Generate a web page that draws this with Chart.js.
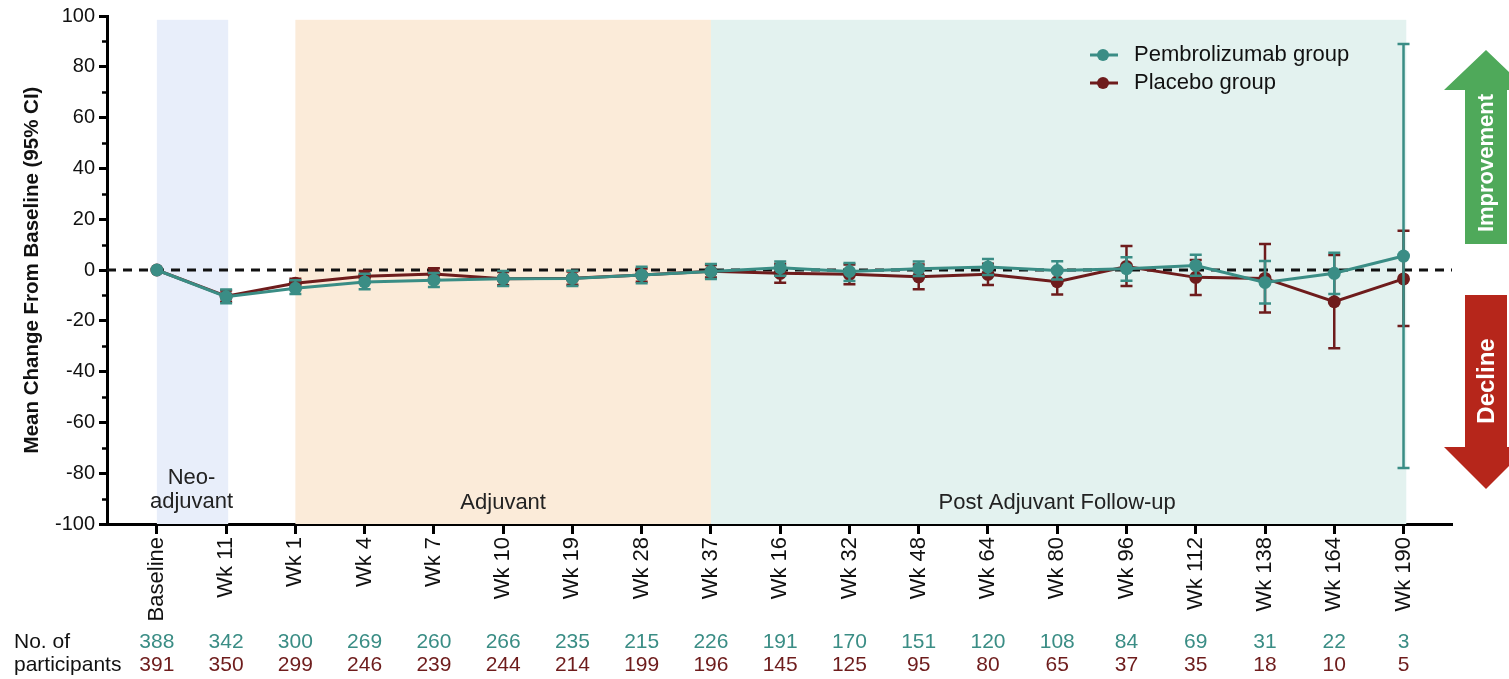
<!DOCTYPE html>
<html>
<head>
<meta charset="utf-8">
<script src="https://cdn.jsdelivr.net/npm/chart.js@4/dist/chart.umd.min.js"></script>
<style>
  html, body { margin: 0; padding: 0; background: #fff; }
  #wrap { position: relative; width: 1509px; height: 679px; }
</style>
</head>
<body>
<div id="wrap"><canvas id="qolChart"></canvas></div>
<script>
// ── Data ──────────────────────────────────────────────────
const visitLabels = ['Baseline', 'Wk 11', 'Wk 1', 'Wk 4', 'Wk 7', 'Wk 10', 'Wk 19', 'Wk 28', 'Wk 37',
    'Wk 16', 'Wk 32', 'Wk 48', 'Wk 64', 'Wk 80', 'Wk 96', 'Wk 112', 'Wk 138', 'Wk 164', 'Wk 190'];

const pembroMean = [0, -10.5, -7.2, -4.7, -4.0, -3.4, -3.3, -2.0, -0.6, 0.9, -0.6, 0.5, 1.2, -0.2, 0.5, 1.8, -4.9, -1.3, 5.5];
const pembroLow  = [null, -13.1, -9.4, -7.6, -6.7, -6.3, -6.3, -5.2, -3.5, -2.3, -4.3, -2.4, -2.0, -3.7, -4.2, -2.3, -13.2, -9.4, -78.0];
const pembroHigh = [null, -7.7, -4.0, -1.5, -1.2, -0.4, -0.3, 1.3, 2.4, 3.3, 2.8, 3.3, 4.3, 3.4, 5.0, 6.0, 3.5, 6.8, 89.0];

const placeboMean = [0, -10.3, -5.2, -2.5, -1.6, -3.4, -3.2, -2.0, -0.5, -1.3, -1.7, -2.7, -1.7, -4.6, 1.4, -2.9, -3.3, -12.5, -3.5];
const placeboLow  = [null, -12.5, -7.5, -4.8, -3.9, -6.0, -5.8, -4.6, -3.0, -5.0, -5.6, -7.6, -5.9, -9.6, -6.3, -9.8, -16.7, -30.8, -22.0];
const placeboHigh = [null, -8.1, -3.4, -0.4, 0.7, -0.8, -0.6, 0.6, 2.0, 2.4, 2.2, 2.2, 2.5, 0.4, 9.4, 3.9, 10.2, 5.9, 15.5];

const pembroN  = [388, 342, 300, 269, 260, 266, 235, 215, 226, 191, 170, 151, 120, 108, 84, 69, 31, 22, 3];
const placeboN = [391, 350, 299, 246, 239, 244, 214, 199, 196, 145, 125, 95, 80, 65, 37, 35, 18, 10, 5];

const yTicks = [-100, -80, -60, -40, -20, 0, 20, 40, 60, 80, 100];

// phase bands, as index ranges on the x axis
const phases = [
    { from: 0, to: 1.03, color: '#e8eefa' },
    { from: 2, to: 8, color: '#fbebd9' },
    { from: 8, to: 18.04, color: '#e3f2ef' }
];

const TEAL = '#3a8d85';
const MAROON = '#6e1c1c';
const FONT = '"Liberation Sans", Arial, sans-serif';

const toPoints = arr => arr.map((v, i) => ({ x: i, y: v }));

// ── Plugin: bands, zero line, error bars, annotations ─────
const decorPlugin = {
    id: 'decor',
    beforeDatasetsDraw(chart) {
        const { ctx, scales: { x, y }, chartArea } = chart;
        ctx.save();
        const top = y.getPixelForValue(98.5);
        phases.forEach(p => {
            const x0 = x.getPixelForValue(p.from);
            const x1 = x.getPixelForValue(p.to);
            ctx.fillStyle = p.color;
            ctx.fillRect(x0, top, x1 - x0, chartArea.bottom - top);
        });

        // minor y ticks
        ctx.strokeStyle = '#000';
        ctx.lineWidth = 2.5;
        for (let v = -90; v <= 90; v += 20) {
            const py = Math.round(y.getPixelForValue(v)) + 0.5;
            ctx.beginPath();
            ctx.moveTo(chartArea.left - 5, py);
            ctx.lineTo(chartArea.left, py);
            ctx.stroke();
        }

        // region labels
        ctx.fillStyle = '#222';
        ctx.font = '22px ' + FONT;
        ctx.textAlign = 'center';
        ctx.textBaseline = 'middle';
        const neoX = (x.getPixelForValue(0) + x.getPixelForValue(1)) / 2;
        ctx.fillText('Neo-', neoX, 478);
        ctx.fillText('adjuvant', neoX, 502);
        ctx.fillText('Adjuvant', x.getPixelForValue(5), 503);
        ctx.fillText('Post Adjuvant Follow-up', (x.getPixelForValue(8) + x.getPixelForValue(18)) / 2, 503);

        // zero reference line
        const zy = y.getPixelForValue(0);
        ctx.strokeStyle = '#111';
        ctx.lineWidth = 3;
        ctx.setLineDash([9, 7]);
        ctx.beginPath();
        ctx.moveTo(chartArea.left, zy);
        ctx.lineTo(chartArea.right, zy);
        ctx.stroke();
        ctx.restore();
    },
    beforeDatasetDraw(chart, args) {
        const { ctx, scales: { x, y } } = chart;
        const ds = chart.data.datasets[args.index];
        if (!ds.errLow) return;
        ctx.save();
        ctx.strokeStyle = ds.borderColor;
        ctx.lineWidth = 2.5;
        ds.errLow.forEach((lo, i) => {
            const hi = ds.errHigh[i];
            if (lo === null || hi === null) return;
            const px = x.getPixelForValue(i);
            const pLo = y.getPixelForValue(lo);
            const pHi = y.getPixelForValue(hi);
            ctx.beginPath();
            ctx.moveTo(px, pLo); ctx.lineTo(px, pHi);
            ctx.moveTo(px - 6, pLo); ctx.lineTo(px + 6, pLo);
            ctx.moveTo(px - 6, pHi); ctx.lineTo(px + 6, pHi);
            ctx.stroke();
        });
        ctx.restore();
    },
    afterDraw(chart) {
        const { ctx, scales: { x } } = chart;
        ctx.save();

        // legend
        const legend = [
            { label: 'Pembrolizumab group', color: TEAL, y: 55 },
            { label: 'Placebo group', color: MAROON, y: 83 }
        ];
        legend.forEach(item => {
            ctx.strokeStyle = item.color;
            ctx.fillStyle = item.color;
            ctx.lineWidth = 3;
            ctx.beginPath();
            ctx.moveTo(1090, item.y); ctx.lineTo(1118, item.y);
            ctx.stroke();
            ctx.beginPath();
            ctx.arc(1103, item.y, 6, 0, Math.PI * 2);
            ctx.fill();
            ctx.fillStyle = '#111';
            ctx.font = '22px ' + FONT;
            ctx.textAlign = 'left';
            ctx.textBaseline = 'middle';
            ctx.fillText(item.label, 1134, item.y);
        });

        // improvement / decline arrows
        const drawArrow = (shaftTop, shaftBottom, tipY, baseY, fill, text, textY, size) => {
            const cx = 1486;
            ctx.fillStyle = fill;
            ctx.beginPath();
            ctx.moveTo(cx, tipY);
            ctx.lineTo(cx + 42, baseY);
            ctx.lineTo(cx + 21, baseY);
            ctx.lineTo(cx + 21, tipY < baseY ? shaftBottom : shaftTop);
            ctx.lineTo(cx - 21, tipY < baseY ? shaftBottom : shaftTop);
            ctx.lineTo(cx - 21, baseY);
            ctx.lineTo(cx - 42, baseY);
            ctx.closePath();
            ctx.fill();
            ctx.save();
            ctx.translate(cx, textY);
            ctx.rotate(-Math.PI / 2);
            ctx.fillStyle = '#fff';
            ctx.font = 'bold ' + size + 'px ' + FONT;
            ctx.textAlign = 'center';
            ctx.textBaseline = 'middle';
            ctx.fillText(text, 0, 1);
            ctx.restore();
        };
        drawArrow(90, 244, 50, 90, '#4fa95a', 'Improvement', 163, 22);
        drawArrow(295, 447, 489, 447, '#b6261b', 'Decline', 381, 24);

        // participants table
        ctx.font = '21px ' + FONT;
        ctx.textBaseline = 'middle';
        ctx.textAlign = 'left';
        ctx.fillStyle = '#111';
        ctx.fillText('No. of', 14, 642);
        ctx.fillText('participants', 14, 665);
        ctx.textAlign = 'center';
        visitLabels.forEach((_, i) => {
            const px = x.getPixelForValue(i);
            ctx.fillStyle = TEAL;
            ctx.fillText(String(pembroN[i]), px, 642);
            ctx.fillStyle = MAROON;
            ctx.fillText(String(placeboN[i]), px, 665);
        });
        ctx.restore();
    }
};

const ctx = document.getElementById('qolChart').getContext('2d');
new Chart(ctx, {
    type: 'line',
    data: {
        datasets: [
            {
                label: 'Pembrolizumab group',
                data: toPoints(pembroMean),
                errLow: pembroLow,
                errHigh: pembroHigh,
                borderColor: TEAL,
                backgroundColor: TEAL,
                borderWidth: 3,
                pointRadius: 6.5,
                pointBorderWidth: 0,
                tension: 0
            },
            {
                label: 'Placebo group',
                data: toPoints(placeboMean),
                errLow: placeboLow,
                errHigh: placeboHigh,
                borderColor: MAROON,
                backgroundColor: MAROON,
                borderWidth: 3,
                pointRadius: 6.5,
                pointBorderWidth: 0,
                tension: 0
            }
        ]
    },
    options: {
        responsive: true,
        maintainAspectRatio: false,
        devicePixelRatio: 1,
        animation: false,
        layout: { padding: { top: 16, right: 57, bottom: 0, left: 0 } },
        plugins: {
            legend: { display: false },
            tooltip: { enabled: false }
        },
        scales: {
            x: {
                type: 'linear',
                min: -0.72,
                max: 18.7,
                afterBuildTicks: (scale) => {
                    scale.ticks = visitLabels.map((_, i) => ({ value: i }));
                },
                afterFit: (scale) => { scale.height = 155; },
                border: { display: true, color: '#000', width: 3 },
                grid: { display: true, drawOnChartArea: false, drawTicks: true, tickLength: 10, tickWidth: 3, color: '#000' },
                ticks: {
                    autoSkip: false,
                    maxRotation: 90,
                    minRotation: 90,
                    padding: 3,
                    color: '#111',
                    font: { family: FONT, size: 22 },
                    callback: (v) => visitLabels[v] ?? ''
                }
            },
            y: {
                min: -100,
                max: 100,
                afterBuildTicks: (scale) => {
                    scale.ticks = yTicks.map(v => ({ value: v }));
                },
                afterFit: (scale) => { scale.width = 107; },
                border: { display: true, color: '#000', width: 3 },
                grid: { display: true, drawOnChartArea: false, drawTicks: true, tickLength: 8, tickWidth: 3, color: '#000' },
                ticks: {
                    padding: 4,
                    color: '#111',
                    font: { family: FONT, size: 20 }
                },
                title: {
                    display: true,
                    text: 'Mean Change From Baseline (95% CI)',
                    color: '#111',
                    font: { family: FONT, size: 20.5, weight: 'bold' },
                    padding: { top: 20, bottom: 0 }
                }
            }
        }
    },
    plugins: [decorPlugin]
});
</script>
</body>
</html>
